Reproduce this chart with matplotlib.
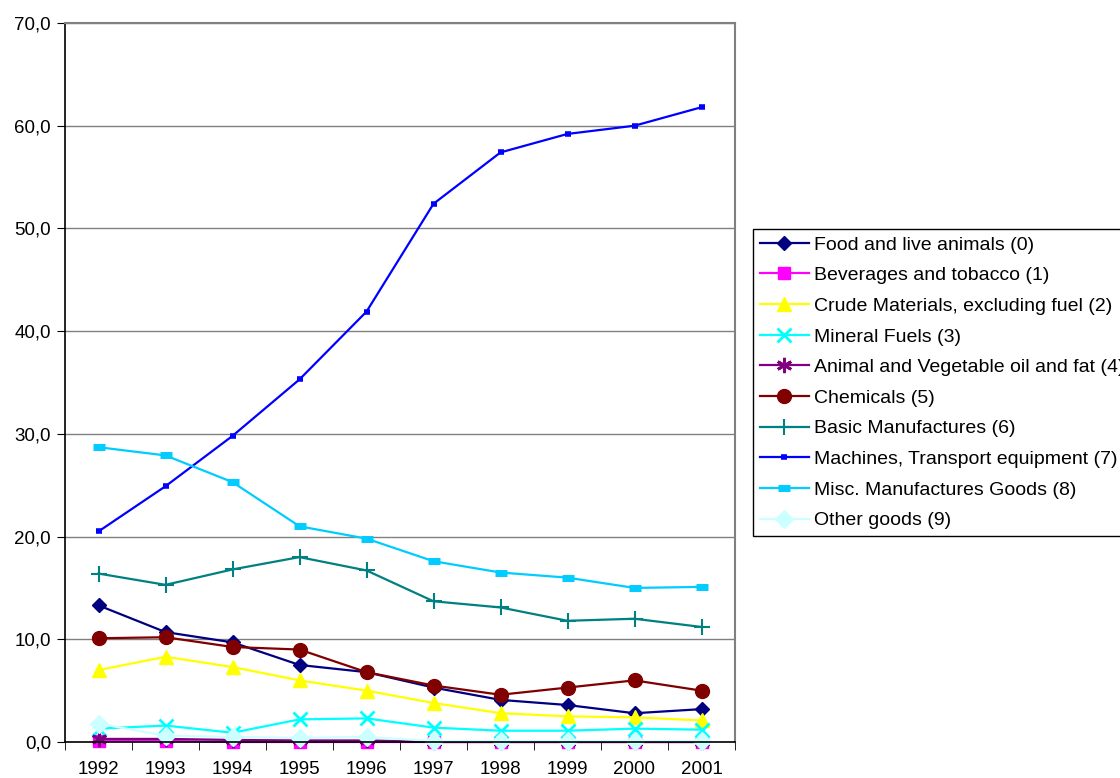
import matplotlib.pyplot as plt
import numpy as np
from matplotlib.ticker import FuncFormatter, FixedLocator

plt.rcParams.update({'font.family': ['Liberation Sans', 'DejaVu Sans'],
                     'font.size': 12})

years = ['1992', '1993', '1994', '1995', '1996',
         '1997', '1998', '1999', '2000', '2001']

food = [13.3, 10.7, 9.7, 7.5, 6.8, 5.3, 4.1, 3.6, 2.8, 3.2]
beverages = [0.1, 0.1, 0.0, 0.0, 0.0, 0.0, 0.0, 0.0, 0.0, 0.0]
crude = [7.0, 8.3, 7.3, 6.0, 5.0, 3.8, 2.8, 2.5, 2.4, 2.1]
mineral = [1.3, 1.6, 0.9, 2.2, 2.3, 1.4, 1.1, 1.1, 1.3, 1.2]
animal_veg = [0.3, 0.3, 0.2, 0.15, 0.15, 0.0, 0.0, 0.0, 0.0, 0.0]
chemicals = [10.1, 10.2, 9.25, 9.0, 6.8, 5.5, 4.6, 5.3, 6.0, 5.0]
basic_manuf = [16.4, 15.3, 16.8, 18.0, 16.7, 13.7, 13.1, 11.8, 12.0, 11.2]
machines = [20.5, 24.9, 29.8, 35.3, 41.9, 52.4, 57.4, 59.2, 60.0, 61.8]
misc_manuf = [28.7, 27.9, 25.3, 21.0, 19.8, 17.6, 16.5, 16.0, 15.0, 15.1]
other_goods = [1.8, 0.6, 0.5, 0.4, 0.5, 0.1, 0.1, 0.1, 0.1, 0.1]

# label, values, colour, marker, marker size, marker edge width
series = [
    ('Food and live animals (0)', food, '#000080', 'D', 7, 1),
    ('Beverages and tobacco (1)', beverages, '#FF00FF', 's', 8, 1),
    ('Crude Materials, excluding fuel (2)', crude, '#FFFF00', '^', 10, 1),
    ('Mineral Fuels (3)', mineral, '#00FFFF', 'x', 10, 2),
    ('Animal and Vegetable oil and fat (4)', animal_veg, '#800080', (6, 2, 0), 11, 2),
    ('Chemicals (5)', chemicals, '#800000', 'o', 10, 1),
    ('Basic Manufactures (6)', basic_manuf, '#008080', '+', 11, 1.5),
    ('Machines, Transport equipment (7)', machines, '#0000FF', '_', 5, 4),
    ('Misc. Manufactures Goods (8)', misc_manuf, '#00CCFF', '_', 8, 5),
    ('Other goods (9)', other_goods, '#CCFFFF', 'D', 9, 1),
]

fig = plt.figure(figsize=(11.2, 7.78), dpi=100)
ax = fig.add_axes([65 / 1120, 36 / 778, 670 / 1120, 719 / 778])

x = np.arange(len(years))
handles = []
for label, vals, col, mk, ms, mew in series:
    h, = ax.plot(x, vals, color=col, lw=1.6, marker=mk, markersize=ms,
                 markerfacecolor=col, markeredgecolor=col,
                 markeredgewidth=mew, label=label, clip_on=False)
    handles.append(h)

ax.set_xlim(-0.5, len(years) - 0.5)
ax.set_ylim(0, 70)
ax.set_yticks(np.arange(0, 71, 10))
ax.yaxis.set_major_formatter(FuncFormatter(lambda v, p: f'{v:.1f}'.replace('.', ',')))
ax.set_xticks(x)
ax.set_xticklabels(years)
ax.xaxis.set_minor_locator(FixedLocator(np.arange(-0.5, len(years), 1.0)))
ax.tick_params(axis='x', which='major', length=0, pad=14, labelsize=13.5)
ax.tick_params(axis='x', which='minor', length=6, direction='out', color='black')
ax.tick_params(axis='y', length=6, direction='out', color='black', pad=4,
               labelsize=13.5)

ax.grid(axis='y', color='#808080', lw=1)
ax.set_axisbelow(True)
for side in ['top', 'right']:
    ax.spines[side].set_color('#808080')
    ax.spines[side].set_linewidth(1.5)
for side in ['left', 'bottom']:
    ax.spines[side].set_color('black')
    ax.spines[side].set_linewidth(1.2)

# legend sits right of the plot and runs off the figure edge
leg = fig.legend(handles=handles, loc='upper left',
                 bbox_to_anchor=(753 / 1120, 1 - 229 / 778),
                 borderaxespad=0, frameon=True, fancybox=False,
                 edgecolor='black', framealpha=1, borderpad=0.36,
                 labelspacing=0.67, handlelength=2.5, handletextpad=0.26,
                 fontsize=14)
leg.get_frame().set_linewidth(1)

fig.savefig('out.png', dpi=100)
